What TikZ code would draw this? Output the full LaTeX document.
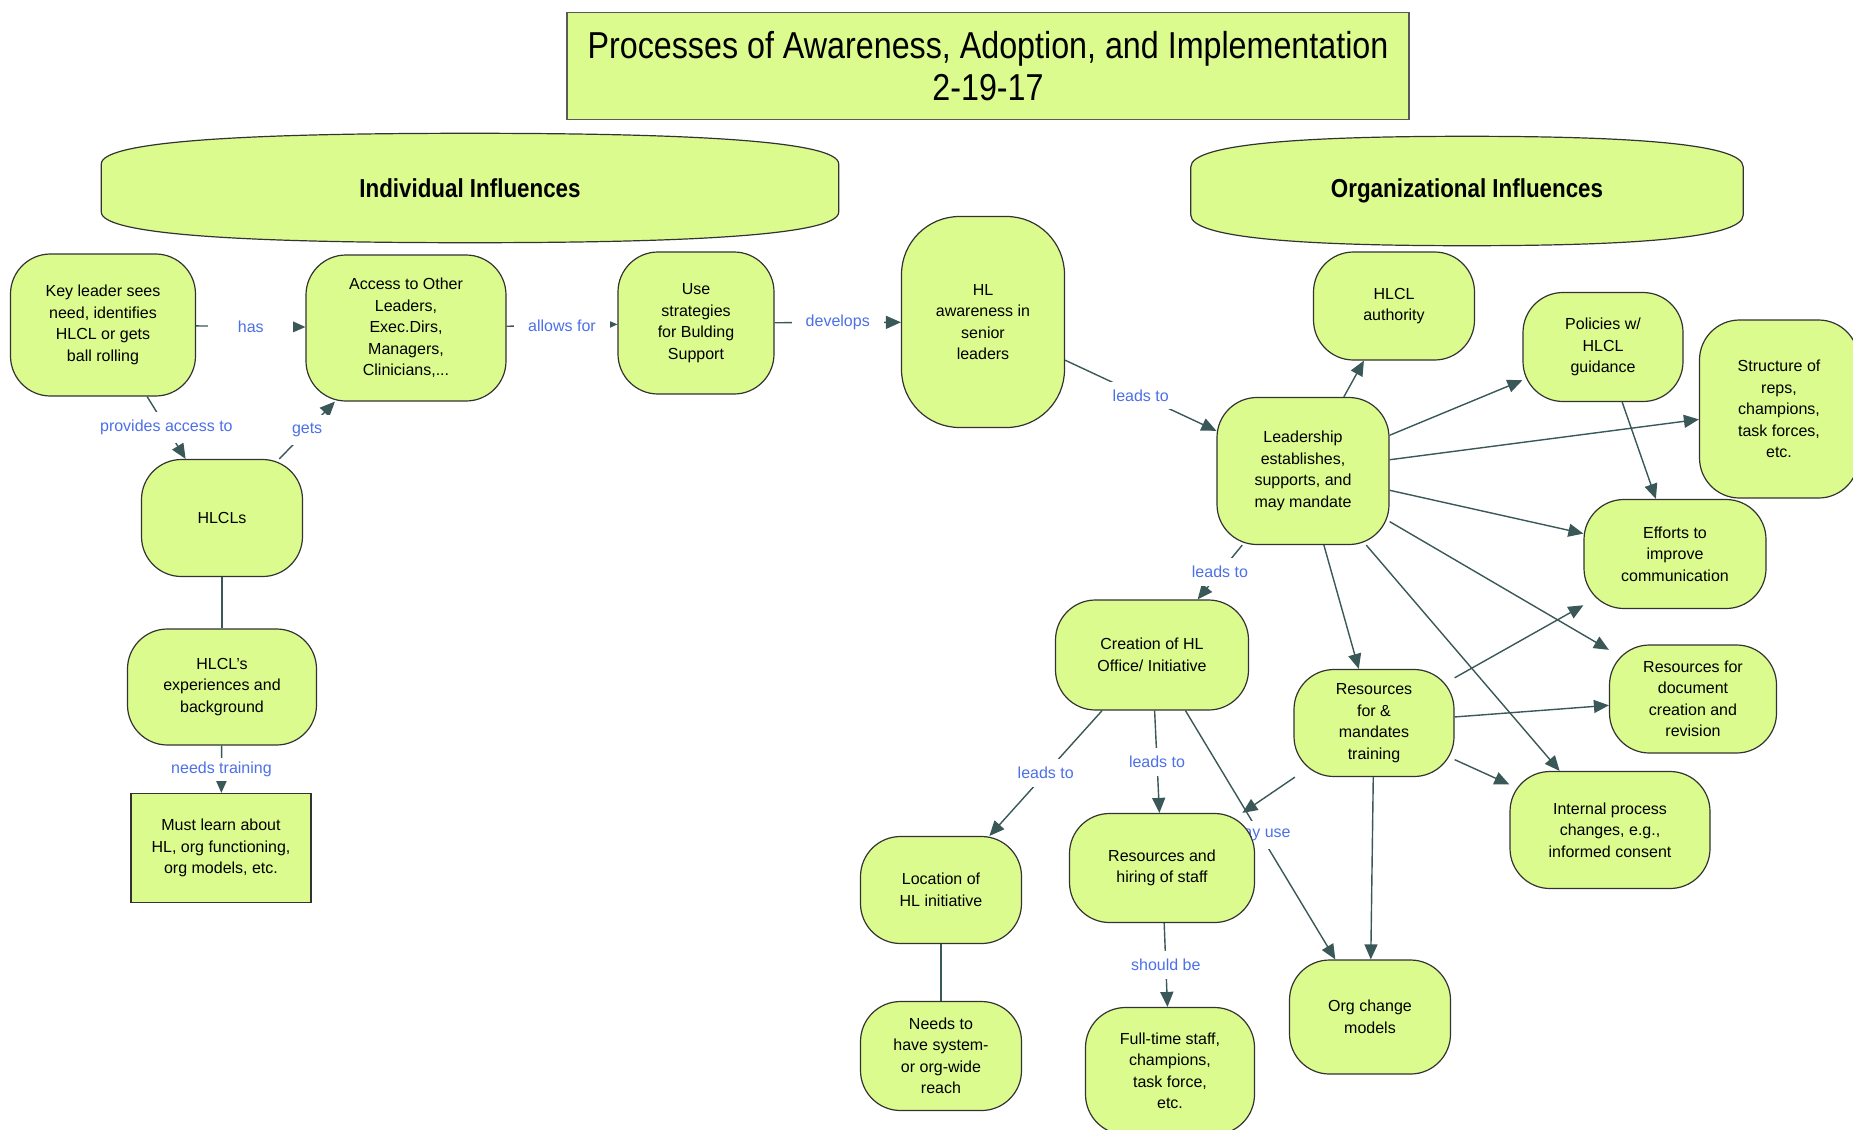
\documentclass[tikz,border=0pt]{standalone}
\usepackage{fontspec}
\setmainfont{Liberation Sans}
\newfontfamily\narrowfont{Liberation Sans}[FakeStretch=0.86]
\newfontfamily\titlefont{Liberation Sans}[FakeStretch=0.86]
\usetikzlibrary{arrows.meta,backgrounds,calc}
\definecolor{boxfill}{HTML}{DCFB8E}
\definecolor{edgec}{HTML}{3A5858}
\definecolor{lblc}{HTML}{4D70E8}
\newcommand{\hdrshape}[1]{%
  \path[hdrfill] ($(#1.north west)!0.28!(#1.south west)$)
    .. controls ($(#1.north west)!0.06!(#1.south west)$) and ($(#1.north west)!0.22!(#1.north east)$) .. (#1.north)
    .. controls ($(#1.north east)!0.22!(#1.north west)$) and ($(#1.north east)!0.06!(#1.south east)$) .. ($(#1.north east)!0.28!(#1.south east)$)
    -- ($(#1.south east)!0.28!(#1.north east)$)
    .. controls ($(#1.south east)!0.06!(#1.north east)$) and ($(#1.south east)!0.22!(#1.south west)$) .. (#1.south)
    .. controls ($(#1.south west)!0.22!(#1.south east)$) and ($(#1.south west)!0.06!(#1.north west)$) .. ($(#1.south west)!0.28!(#1.north west)$)
    -- cycle;}
\tikzset{
  box/.style={draw=black!80, fill=boxfill, line width=1.2pt, rounded corners=40pt, align=center,
    font=\fontsize{16}{21.5}\selectfont, inner sep=0pt},
  sharpbox/.style={draw=black!80, fill=boxfill, line width=1.2pt, align=center,
    font=\fontsize{16}{21.5}\selectfont, inner sep=0pt},
  sz/.style 2 args={minimum width=#1pt, minimum height=#2pt},
  hdrtext/.style={inner sep=0pt, font=\narrowfont\bfseries\fontsize{26}{30}\selectfont},
  hdrfill/.style={draw=black!80, fill=boxfill, line width=1.2pt},
  conn/.style={draw=edgec, line width=1.4pt, -{Triangle[length=15pt,width=13pt]}},
  plainline/.style={draw=edgec, line width=1.4pt},
  lbl/.style={fill=white, text=lblc, font=\fontsize{16}{19}\selectfont, inner xsep=14pt, inner ysep=4pt, minimum width=85pt},
}
\begin{document}
\begin{tikzpicture}[x=1pt,y=-1pt]
\useasboundingbox (0,0) rectangle (1853,1130);
% title
\node[draw=black!65, fill=boxfill, line width=1.6pt, sz={842}{107}, align=center,
  font=\titlefont\fontsize{37.5}{42}\selectfont] (title) at (988,66)
  {Processes of Awareness, Adoption, and Implementation\\2-19-17};
% headers
\node[hdrtext, sz={737}{109}] (indinf) at (470,188) {Individual Influences};
\node[hdrtext, sz={552}{109}] (orginf) at (1467,191) {Organizational Influences};
% individual side
\node[box, sz={185}{142}] (key) at (103,325) {Key leader sees\\need, identifies\\HLCL or gets\\ball rolling};
\node[box, sz={200}{146}] (access) at (406,328) {Access to Other\\Leaders,\\Exec.Dirs,\\Managers,\\Clinicians,...};
\node[box, sz={156}{142}] (use) at (696,323) {Use\\strategies\\for Bulding\\Support};
\node[box, sz={163}{211}, rounded corners=58pt] (hlaw) at (983,322) {HL\\awareness in\\senior\\leaders};
\node[box, sz={161}{117}] (hlcls) at (222,518) {HLCLs};
\node[box, sz={189}{116}] (exp) at (222,687) {HLCL's\\experiences and\\background};
\node[sharpbox, sz={180}{109}] (must) at (221,848) {Must learn about\\HL, org functioning,\\org models, etc.};
% organizational side
\node[box, sz={161}{108}] (auth) at (1394,306) {HLCL\\authority};
\node[box, sz={160}{109}] (pol) at (1603,347) {Policies w/\\HLCL\\guidance};
\node[box, sz={159}{178}] (struct) at (1779,409) {Structure of\\reps,\\champions,\\task forces,\\etc.};
\node[box, sz={172}{147}] (lead) at (1303,471) {Leadership\\establishes,\\supports, and\\may mandate};
\node[box, sz={182}{109}] (eff) at (1675,554) {Efforts to\\improve\\communication};
\node[box, sz={193}{110}] (creat) at (1152,655) {Creation of HL\\Office/ Initiative};
\node[box, sz={160}{107}] (rtrain) at (1374,723) {Resources\\for \&\\mandates\\training};
\node[box, sz={167}{108}] (rdoc) at (1693,699) {Resources for\\document\\creation and\\revision};
\node[box, sz={200}{117}] (intp) at (1610,830) {Internal process\\changes, e.g.,\\informed consent};
\node[box, sz={161}{107}] (loc) at (941,890) {Location of\\HL initiative};
\node[box, sz={185}{109}] (rhire) at (1162,868) {Resources and\\hiring of staff};
\node[box, sz={161}{114}] (org) at (1370,1017) {Org change\\models};
\node[box, sz={161}{109}] (needs) at (941,1056) {Needs to\\have system-\\or org-wide\\reach};
\node[box, sz={169}{127}] (full) at (1170,1071) {Full-time staff,\\champions,\\task force,\\etc.};
\begin{scope}[on background layer]
\fill[white] (0,0) rectangle (1853,1130);
\hdrshape{indinf}
\hdrshape{orginf}
\draw[conn] (key) -- node[lbl]{has} (access);
\draw[conn] (access) -- node[lbl]{allows for} (use);
\draw[conn] (use) -- node[lbl]{develops} (hlaw);
\draw[conn] (key) -- node[lbl, inner ysep=8pt]{provides access to} (hlcls);
\draw[conn] (hlcls) -- node[lbl, inner ysep=8pt]{gets} (access);
\draw[plainline] (hlcls) -- (exp);
\draw[conn] (exp) -- node[lbl]{needs training} (must);
\draw[conn] (hlaw) -- node[lbl, inner ysep=8pt]{leads to} (lead);
\draw[conn] (lead) -- (auth);
\draw[conn] (lead) -- (pol);
\draw[conn] (lead) -- (struct);
\draw[conn] (lead) -- (eff);
\draw[conn] (lead) -- (rdoc);
\draw[conn] (lead) -- (intp);
\draw[conn] (lead) -- (rtrain);
\draw[conn] (lead) -- node[lbl, inner ysep=8pt]{leads to} (creat);
\draw[conn] (pol) -- (eff);
\draw[conn] (creat) -- node[lbl, inner ysep=8pt]{may use} (org);
\draw[conn] (rtrain) -- (eff);
\draw[conn] (rtrain) -- (rdoc);
\draw[conn] (rtrain) -- (intp);
\draw[conn] (rtrain) -- (rhire);
\draw[conn] (rtrain) -- (org);
\draw[conn] (creat) -- node[lbl, inner ysep=8pt]{leads to} (loc);
\draw[conn] (creat) -- node[lbl, inner ysep=8pt]{leads to} (rhire);
\draw[plainline] (loc) -- (needs);
\draw[conn] (rhire) -- node[lbl, inner ysep=8pt]{should be} (full);
\end{scope}
\end{tikzpicture}
\end{document}
